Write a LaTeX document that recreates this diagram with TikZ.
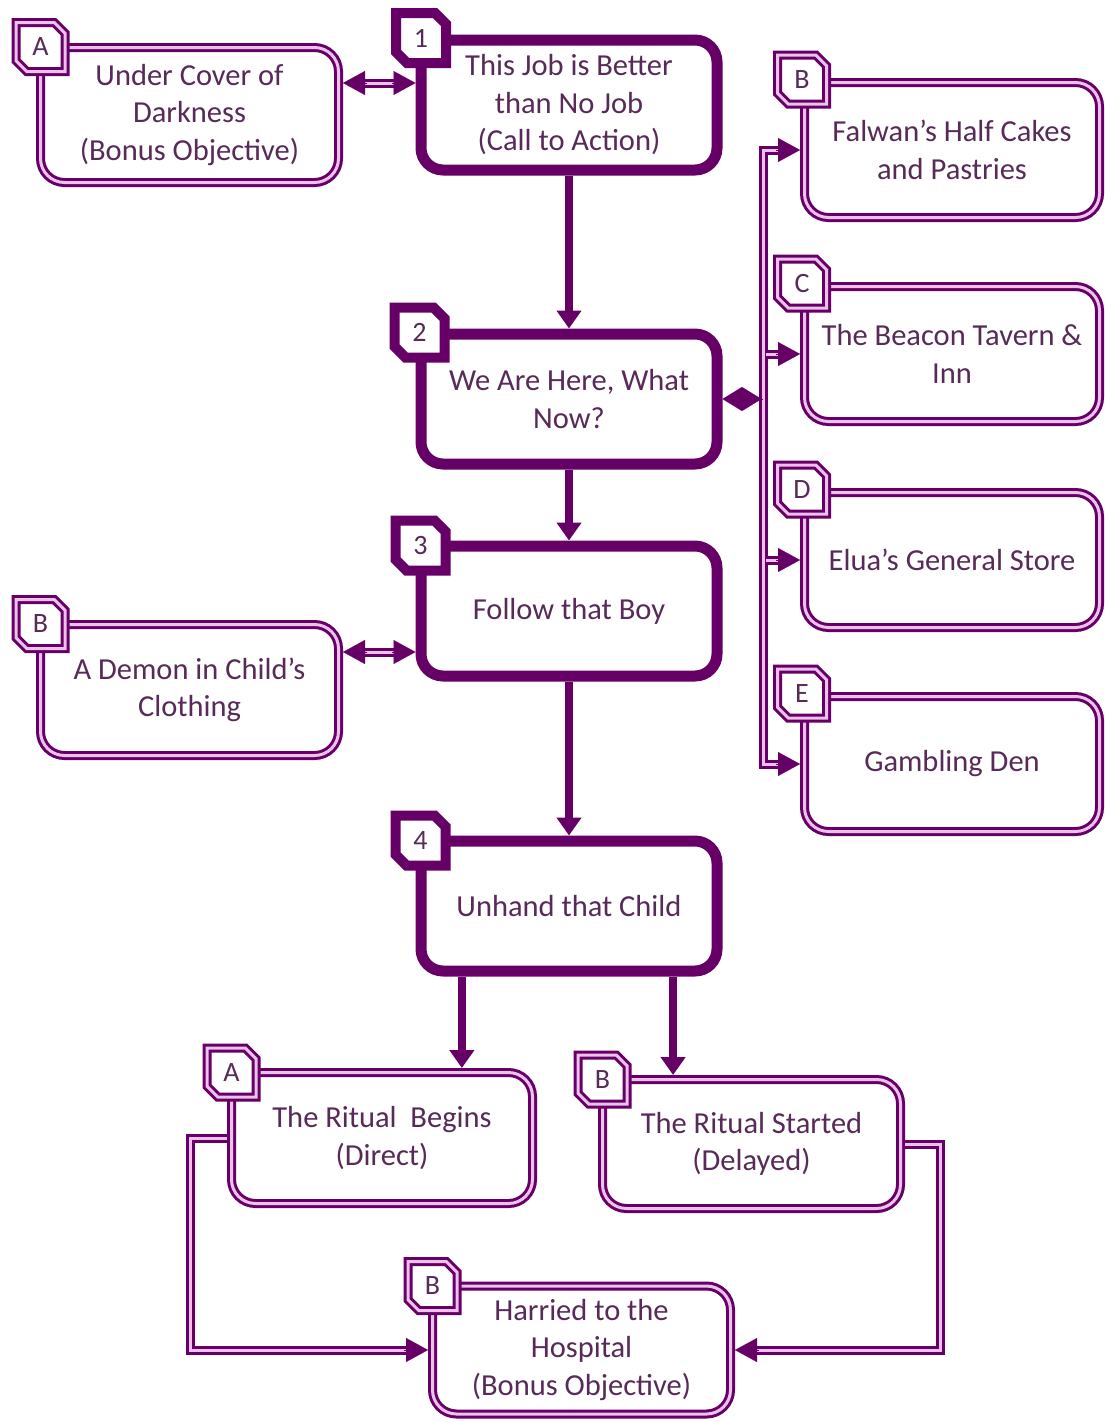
\documentclass[tikz,border=0pt]{standalone}
\usepackage{fontspec}
\setmainfont{Carlito}
\usetikzlibrary{arrows.meta,calc}
\definecolor{pcol}{RGB}{102,0,102}
\definecolor{tcol}{RGB}{88,42,88}
\definecolor{pinkc}{RGB}{238,192,238}
% #1 name, #2 position, #3 line style, #4 half size, #5 text
\newcommand{\mkbadge}[5]{%
  \coordinate (#1c) at #2;
  \filldraw[#3, fill=white, shift={(#1c)}] (-#4,-#4) -- ({0.56*#4},-#4) -- (#4,{-0.56*#4})
     -- (#4,#4) -- ({-0.56*#4},#4) -- (-#4,{0.56*#4}) -- cycle;
  \node[badgetext] (#1) at (#1c) {#5};}
\begin{document}
\begin{tikzpicture}[x=1pt,y=-1pt,
  every node/.style={font=\fontsize{30.5}{37.5}\selectfont, text=tcol},
  mainbox/.style={draw=pcol, line width=11pt, rounded corners=22pt, fill=white,
    minimum width=296pt, minimum height=130pt, inner sep=0pt, outer sep=5.5pt, align=center},
  sidebox/.style={draw=pcol, line width=3pt, double=pinkc, double distance=3pt,
    rounded corners=24pt, fill=white, minimum width=298pt, minimum height=133pt,
    inner sep=0pt, outer sep=4.5pt, align=center},
  badgetext/.style={inner sep=0pt, font=\fontsize{28}{30}\selectfont},
  mainline/.style={draw=pcol, line width=10pt},
  sideline/.style={draw=pcol, line width=3pt, double=pinkc, double distance=3pt},
  bigarrow/.style={draw=pcol, line width=8pt, -{Triangle[length=18pt,width=24pt]}},
  dline/.style={draw=pcol, line width=3pt, double=pinkc, double distance=3pt},
  arrtip/.style={draw=pcol, fill=pcol, line width=0.1pt, -{Triangle[length=22pt,width=24pt]}},
]
\useasboundingbox (0,0) rectangle (1104,1422);

% main chain
\node[mainbox] (n1) at (569,105) {This Job is Better\\than No Job\\(Call to Action)};
\node[mainbox] (n2) at (569,399) {We Are Here, What\\Now?};
\node[mainbox] (n3) at (569,611) {Follow that Boy};
\node[mainbox] (n4) at (569,906) {Unhand that Child};

% side boxes
\node[sidebox, minimum height=135pt] (sa) at (189.5,115) {Under Cover of\\Darkness\\(Bonus Objective)};
\node[sidebox, minimum height=131pt] (sdem) at (189.5,690) {A Demon in Child’s\\Clothing};
\node[sidebox, minimum width=295pt, minimum height=135pt] (sB) at (952,150) {Falwan’s Half Cakes\\and Pastries};
\node[sidebox, minimum width=295pt, minimum height=135pt] (sC) at (952,354) {The Beacon Tavern \&\\Inn};
\node[sidebox, minimum width=295pt, minimum height=135pt] (sD) at (952,560) {Elua’s General Store};
\node[sidebox, minimum width=295pt, minimum height=135pt] (sE) at (952,764) {Gambling Den};
\node[sidebox, minimum width=301pt, minimum height=131pt] (ra) at (382,1138) {The Ritual\ \ Begins\\(Direct)};
\node[sidebox, minimum height=129pt] (rb) at (751.5,1144) {The Ritual Started\\(Delayed)};
\node[sidebox, minimum height=128pt] (h) at (581.5,1350) {Harried to the\\Hospital\\(Bonus Objective)};

% badges
\mkbadge{b1}{([shift={(5.5,3.5)}]n1.north west)}{mainline}{25}{1}
\mkbadge{b2}{([shift={(4,4)}]n2.north west)}{mainline}{25}{2}
\mkbadge{b3}{([shift={(5,5)}]n3.north west)}{mainline}{25}{3}
\mkbadge{b4}{([shift={(5,5)}]n4.north west)}{mainline}{25}{4}
\mkbadge{bsa}{([shift={(4.5,4)}]sa.north west)}{sideline}{24.5}{A}
\mkbadge{bsdem}{([shift={(4.5,4)}]sdem.north west)}{sideline}{24.5}{B}
\mkbadge{bsB}{([shift={(2,1.5)}]sB.north west)}{sideline}{24.5}{B}
\mkbadge{bsC}{([shift={(2,1.5)}]sC.north west)}{sideline}{24.5}{C}
\mkbadge{bsD}{([shift={(2,1.5)}]sD.north west)}{sideline}{24.5}{D}
\mkbadge{bsE}{([shift={(2,1.5)}]sE.north west)}{sideline}{24.5}{E}
\mkbadge{bra}{([shift={(4.5,4.5)}]ra.north west)}{sideline}{24.5}{A}
\mkbadge{brb}{([shift={(4.5,4.5)}]rb.north west)}{sideline}{24.5}{B}
\mkbadge{bh}{([shift={(4.5,4.5)}]h.north west)}{sideline}{24.5}{B}

% main arrows
\draw[bigarrow] (n1.south) -- (n2.north);
\draw[bigarrow] (n2.south) -- (n3.north);
\draw[bigarrow] (n3.south) -- (n4.north);
\coordinate (s4a) at ($(n4.south west)!0.151!(n4.south east)$);
\coordinate (s4b) at ($(n4.south west)!0.839!(n4.south east)$);
\draw[bigarrow] (s4a) -- (s4a |- ra.north);
\draw[bigarrow] (s4b) -- (s4b |- rb.north);

% A <-> 1
\coordinate (aL) at ([yshift=32pt]sa.east);
\coordinate (aR) at (aL -| n1.west);
\draw[dline, shorten <=20pt, shorten >=20pt] (aL) -- (aR);
\draw[arrtip] ([xshift=24pt]aL) -- (aL);
\draw[arrtip] ([xshift=-24pt]aR) -- (aR);

% Demon <-> 3
\coordinate (dL) at ([yshift=38pt]sdem.east);
\coordinate (dR) at (dL -| n3.west);
\draw[dline, shorten <=20pt, shorten >=20pt] (dL) -- (dR);
\draw[arrtip] ([xshift=24pt]dL) -- (dL);
\draw[arrtip] ([xshift=-24pt]dR) -- (dR);

% bus from 2
\coordinate (bx) at ([xshift=40.5pt]n2.east);
\coordinate (bt) at (bx |- sB.west);
\coordinate (bb) at (bx |- sE.west);
\draw[dline, shorten <=20pt, shorten >=20pt] (sB.west) -- (bt) -- (bb) -- (sE.west);
\draw[dline, shorten >=20pt] ([xshift=3pt]bx |- sC.west) -- (sC.west);
\draw[dline, shorten >=20pt] ([xshift=3pt]bx |- sD.west) -- (sD.west);
\foreach \t in {sB,sC,sD,sE}{
  \draw[arrtip] ([xshift=-24pt]\t.west) -- (\t.west);
}
\draw[draw=pcol, fill=pcol, line width=0.1pt, {Diamond[length=39pt,width=24pt]}-] (n2.east) -- (bx |- n2.east);

% ritual -> hospital
\draw[dline, shorten >=20pt] (ra.west) -- ++(-37,0) |- (h.west);
\draw[arrtip] ([xshift=-24pt]h.west) -- (h.west);
\draw[dline, shorten >=20pt] (rb.east) -- ++(35,0) |- (h.east);
\draw[arrtip] ([xshift=24pt]h.east) -- (h.east);
\end{tikzpicture}
\end{document}
